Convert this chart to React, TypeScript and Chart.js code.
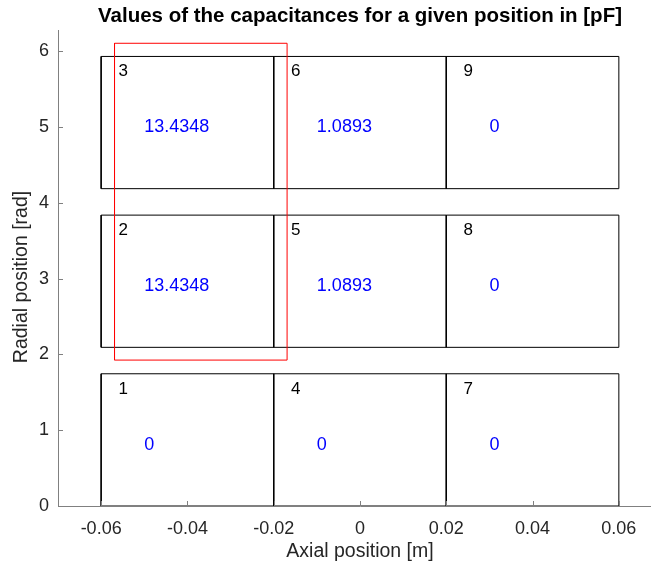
import React, { useEffect, useRef } from "react";
import { Chart, registerables } from "chart.js";

Chart.register(...registerables);

// ---- data ----
const columnEdges = [-0.06, -0.02, 0.02, 0.06];
const rowStarts = [0, 2.0944, 4.1888];
const rowHeight = 1.7453;
const cellIds = [1, 2, 3, 4, 5, 6, 7, 8, 9]; // column-major: col 0 rows 0..2, col 1 ...
const cellValues = ["0", "13.4348", "13.4348", "0", "1.0893", "1.0893", "0", "0", "0"];
const highlightX = [-0.0569, -0.0169];
const highlightY = [1.926, 6.108];
const xTicks = [-0.06, -0.04, -0.02, 0, 0.02, 0.04, 0.06];
const yTicks = [0, 1, 2, 3, 4, 5, 6];
const xRange = [-0.07, 0.07];
const yRange = [0, 2 * Math.PI];
const idOffset = { x: 0.004, y: -0.2 };
const valueOffset = { x: 0.01, y: 0.81 };

const titleText = "Values of the capacitances for a given position in [pF]";
const xTitle = "Axial position [m]";
const yTitle = "Radial position [rad]";

const FONT = "'Liberation Sans', Arial, Helvetica, sans-serif";
const AXIS_COLOR = "#808080";
const TEXT_COLOR = "#262626";

function rectPoints(x0: number, x1: number, y0: number, y1: number) {
  return [
    { x: x0, y: y0 },
    { x: x1, y: y0 },
    { x: x1, y: y1 },
    { x: x0, y: y1 },
    { x: x0, y: y0 },
  ];
}

const annotationPlugin = {
  id: "annot",
  afterDatasetsDraw(chart: any) {
    const { ctx, scales } = chart;
    const xs = scales.x;
    const ys = scales.y;
    ctx.save();
    let k = 0;
    for (let c = 0; c < columnEdges.length - 1; c++) {
      for (let r = 0; r < rowStarts.length; r++) {
        const x0 = columnEdges[c];
        const top = rowStarts[r] + rowHeight;
        ctx.fillStyle = "#000000";
        ctx.font = `17px ${FONT}`;
        ctx.textAlign = "left";
        ctx.textBaseline = "middle";
        ctx.fillText(
          String(cellIds[k]),
          xs.getPixelForValue(x0 + idOffset.x),
          ys.getPixelForValue(top + idOffset.y)
        );
        ctx.fillStyle = "#0000ff";
        ctx.font = `18px ${FONT}`;
        ctx.fillText(
          cellValues[k],
          xs.getPixelForValue(x0 + valueOffset.x),
          ys.getPixelForValue(rowStarts[r] + valueOffset.y)
        );
        k++;
      }
    }
    ctx.restore();
  },
  afterDraw(chart: any) {
    const { ctx, chartArea, scales } = chart;
    const xs = scales.x;
    const ys = scales.y;
    ctx.save();
    ctx.strokeStyle = AXIS_COLOR;
    ctx.lineWidth = 1;
    ctx.beginPath();
    xTicks.forEach((v) => {
      const px = Math.round(xs.getPixelForValue(v)) + 0.5;
      ctx.moveTo(px, chartArea.bottom);
      ctx.lineTo(px, chartArea.bottom - 5);
    });
    yTicks.forEach((v) => {
      const py = Math.round(ys.getPixelForValue(v)) + 0.5;
      ctx.moveTo(chartArea.left, py);
      ctx.lineTo(chartArea.left + 5, py);
    });
    ctx.stroke();

    ctx.fillStyle = "#000000";
    ctx.font = `bold 20.5px ${FONT}`;
    ctx.textAlign = "center";
    ctx.textBaseline = "middle";
    const cx = xs.getPixelForValue(0);
    ctx.fillText(titleText, cx, 16);

    ctx.fillStyle = TEXT_COLOR;
    ctx.font = `19.5px ${FONT}`;
    ctx.fillText(xTitle, cx, 552);
    ctx.translate(22, 277);
    ctx.rotate(-Math.PI / 2);
    ctx.fillText(yTitle, 0, 0);
    ctx.restore();
  },
};

export default function App() {
  const ref = useRef<HTMLCanvasElement | null>(null);
  useEffect(() => {
    if (!ref.current) return;
    const datasets: any[] = [];
    datasets.push({
      data: rectPoints(highlightX[0], highlightX[1], highlightY[0], highlightY[1]),
      borderColor: "#ff0000",
      borderWidth: 1,
    });
    for (let c = 0; c < columnEdges.length - 1; c++) {
      for (let r = 0; r < rowStarts.length; r++) {
        datasets.push({
          data: rectPoints(columnEdges[c], columnEdges[c + 1], rowStarts[r], rowStarts[r] + rowHeight),
          borderColor: "#000000",
          borderWidth: 1,
        });
      }
    }
    datasets.forEach((d) => {
      d.showLine = true;
      d.pointRadius = 0;
      d.pointHoverRadius = 0;
      d.tension = 0;
      d.fill = false;
    });
    const chart = new Chart(ref.current, {
      type: "scatter",
      data: { datasets },
      options: {
        animation: false,
        responsive: false,
        events: [],
        layout: { padding: { top: 30, right: 3, left: 0, bottom: 0 } },
        plugins: { legend: { display: false }, tooltip: { enabled: false }, title: { display: false } },
        scales: {
          x: {
            type: "linear",
            min: xRange[0],
            max: xRange[1],
            afterBuildTicks: (s: any) => {
              s.ticks = xTicks.map((v) => ({ value: v }));
            },
            afterFit: (s: any) => {
              s.height = 63;
            },
            grid: { display: false, drawTicks: false },
            border: { display: true, color: AXIS_COLOR, width: 1 },
            ticks: {
              padding: 12,
              color: TEXT_COLOR,
              font: { family: FONT, size: 18 },
              maxRotation: 0,
              callback: (v: any) => String(Math.round(Number(v) * 100) / 100),
            },
          },
          y: {
            type: "linear",
            min: yRange[0],
            max: yRange[1],
            afterBuildTicks: (s: any) => {
              s.ticks = yTicks.map((v) => ({ value: v }));
            },
            afterFit: (s: any) => {
              s.width = 58;
            },
            grid: { display: false, drawTicks: false },
            border: { display: true, color: AXIS_COLOR, width: 1 },
            ticks: {
              padding: 9,
              color: TEXT_COLOR,
              font: { family: FONT, size: 18 },
              callback: (v: any) => String(v),
            },
          },
        },
      },
      plugins: [annotationPlugin],
    });
    return () => chart.destroy();
  }, []);
  return (
    <div
      style={{
        position: "fixed",
        left: 0,
        top: 0,
        width: 651,
        height: 569,
        overflow: "hidden",
        background: "#ffffff",
      }}
    >
      <canvas ref={ref} width={665} height={569} style={{ display: "block", width: 665, height: 569 }} />
    </div>
  );
}
